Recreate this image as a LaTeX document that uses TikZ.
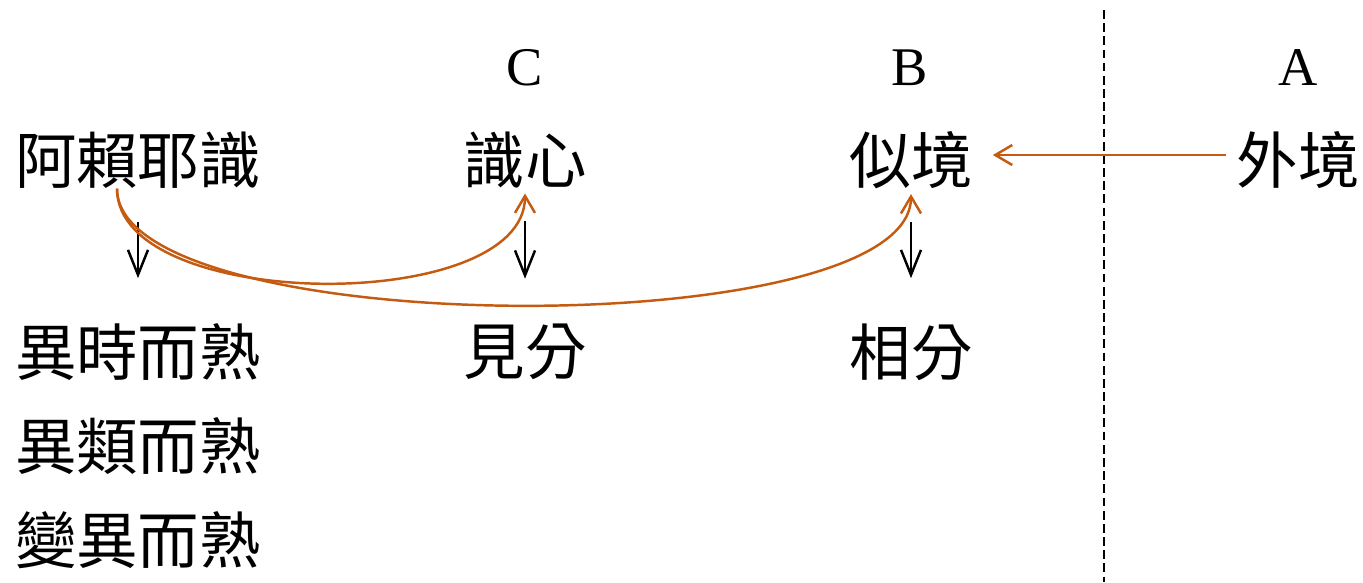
\documentclass[tikz,border=0pt]{standalone}
\usepackage{fontspec}
\setmainfont{Liberation Serif}
\newfontfamily\cjk{Noto Sans CJK TC}
\usetikzlibrary{arrows.meta}
\definecolor{linkorange}{HTML}{C55A11}

\begin{document}
\begin{tikzpicture}[x=0.02cm,y=-0.02cm,
        term/.style={inner sep=0pt, font=\cjk\fontsize{35}{40}\selectfont},
        letter/.style={inner sep=0pt, font=\fontsize{31}{36}\selectfont},
        down/.style={-{Straight Barb[length=5mm,width=4mm]}, line width=1.4pt,
            shorten <=0.66cm, shorten >=0.9cm},
        feed/.style={linkorange, -{Straight Barb[length=3.4mm,width=4mm]}, line width=1.4pt}]
        \useasboundingbox (0,0) rectangle (1363,582);
        \foreach \x/\l in {525/C,910/B,1298/A}{
            \node[letter] (lab\l) at (\x,68) {\l};
        }
        \node[term] (alaya) at (138,160) {阿賴耶識};
        \node[term] (shixin) at (525,160) {識心};
        \node[term] (sijing) at (911,160) {似境};
        \node[term] (waijing) at (1298,160) {外境};
        \node[term] (jianfen) at (525,352) {見分};
        \node[term] (xiangfen) at (911,352) {相分};
        \node[term] (yishi) at (138,352) {異時而熟};
        \node[term] (yilei) at (138,446) {異類而熟};
        \node[term] (bianyi) at (138,540) {變異而熟};
        \foreach \a/\b in {alaya/yishi,shixin/jianfen,sijing/xiangfen}{
            \draw[down] (\a) -- (\b);
        }
        \draw[line width=1.4pt, dash pattern=on 5pt off 2.5pt] (1104,10) -- (1104,582);
        \draw[feed, shorten <=0.2cm, shorten >=0.4cm] ([yshift=1mm]waijing.west) -- ([yshift=1mm]sijing.east);
        \draw[feed] ([xshift=-0.42cm]alaya.south) .. controls +(0,124) and +(0,122) .. ([yshift=-1mm]shixin.south);
        \draw[feed] ([xshift=-0.42cm]alaya.south) .. controls +(0,153) and +(0,151) .. ([yshift=-1mm]sijing.south);
\end{tikzpicture}
\end{document}
